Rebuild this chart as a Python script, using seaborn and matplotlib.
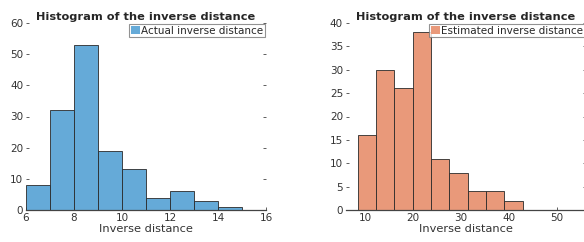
import numpy as np
import pandas as pd
import matplotlib
matplotlib.use("Agg")
import matplotlib.pyplot as plt
import seaborn as sns

# Left histogram: actual inverse distance
actual_edges = [6, 7, 8, 9, 10, 11, 12, 13, 14, 15, 16]
actual_counts = [8, 32, 53, 19, 13, 4, 6, 3, 1, 0]

# Right histogram: estimated inverse distance
est_edges = [8.47, 12.29, 16.12, 19.94, 23.76, 27.59, 31.41, 35.23, 39.06, 42.88]
est_counts = [16, 30, 26, 38, 11, 8, 4, 4, 2]

title = "Histogram of the inverse distance"
xlabel = "Inverse distance"
blue = "#65aad8"
orange = "#e9997a"

sns.set_theme(style="white")
plt.rcParams['font.family'] = ['DejaVu Sans']

fig = plt.figure(figsize=(5.84, 2.42), dpi=100)
ax1 = fig.add_axes([26/584, 32/242, 240/584, 187/242])
ax2 = fig.add_axes([345.8/584, 32/242, 240/584, 187/242])

def centers(edges):
    return [(edges[i] + edges[i+1]) / 2 for i in range(len(edges) - 1)]

df1 = pd.DataFrame({"x": centers(actual_edges), "w": actual_counts})
df2 = pd.DataFrame({"x": centers(est_edges), "w": est_counts})

sns.histplot(data=df1, x="x", weights="w", bins=actual_edges, ax=ax1,
             color=blue, alpha=1, edgecolor="#2a2a2a", linewidth=0.6,
             label="Actual inverse distance")
sns.histplot(data=df2, x="x", weights="w", bins=est_edges, ax=ax2,
             color=orange, alpha=1, edgecolor="#2a2a2a", linewidth=0.6,
             label="Estimated inverse distance")

ax1.set_xlim(6, 16)
ax1.set_ylim(0, 60)
ax1.set_xticks([6, 8, 10, 12, 14, 16])
ax1.set_yticks([0, 10, 20, 30, 40, 50, 60])
ax2.set_xlim(6, 56)
ax2.set_ylim(0, 40)
ax2.set_xticks([10, 20, 30, 40, 50])
ax2.set_yticks([0, 5, 10, 15, 20, 25, 30, 35, 40])

for ax in (ax1, ax2):
    for s in ("left", "top", "right"):
        ax.spines[s].set_visible(False)
    ax.spines["bottom"].set_color("#444444")
    ax.spines["bottom"].set_linewidth(0.9)
    ax.tick_params(axis="both", direction="in", length=2.5, width=0.6,
                   colors="#444444", labelsize=7.5, labelcolor="#333333",
                   left=True, bottom=True, right=True, pad=2)
    ax.set_ylabel("")
    ax.set_xlabel(xlabel, fontsize=8.2, color="#333333", labelpad=1)
    ax.set_title(title, fontsize=8.2, fontweight="bold", pad=2)
    leg = ax.legend(loc="upper right", fontsize=7.5, frameon=True,
                    fancybox=False, borderpad=0.15, handlelength=0.9,
                    handleheight=0.9, handletextpad=0.1, borderaxespad=0.1)
    leg.get_frame().set_edgecolor("#777777")
    leg.get_frame().set_linewidth(0.8)
    for h in leg.legend_handles:
        h.set_edgecolor("none")

fig.savefig("out.png", dpi=100)
